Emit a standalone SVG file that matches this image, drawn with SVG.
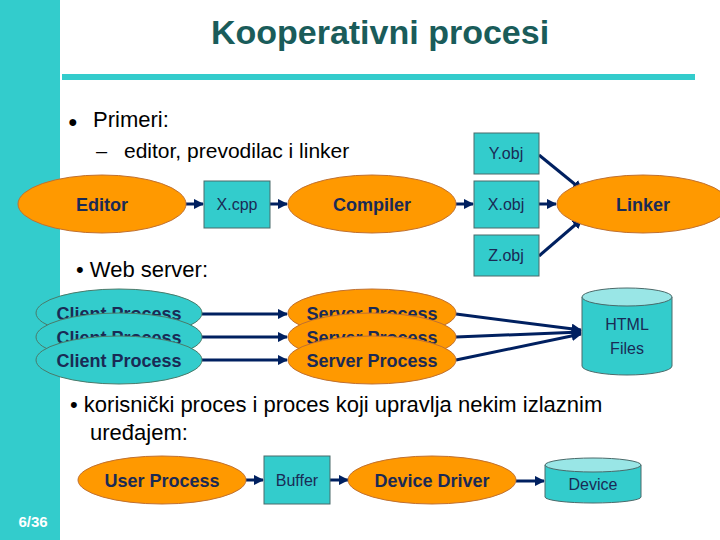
<svg xmlns="http://www.w3.org/2000/svg" width="720" height="540" viewBox="0 0 720 540">
<style>
.t{font-family:"Liberation Sans",Arial,sans-serif;fill:#000}
.n{font-family:"Liberation Sans",Arial,sans-serif;font-weight:bold;font-size:18px;fill:#1a2a55;text-anchor:middle}
.b{font-family:"Liberation Sans",Arial,sans-serif;font-size:16px;fill:#1a2a55;text-anchor:middle}
.oe{fill:#ff9900;stroke:#c07030;stroke-width:1}
.te{fill:#33cccc;stroke:#4a7a6a;stroke-width:1}
.bx{fill:#33cccc;stroke:#4a6a6a;stroke-width:1}
.c path,.c line{stroke:#002060;stroke-width:3;fill:none;marker-end:url(#a)}
</style>
<defs><marker id="a" viewBox="0 0 10 10" refX="9" refY="5" markerWidth="3.5" markerHeight="3.5" orient="auto"><path d="M0,0L10,5L0,10z" fill="#002060"/></marker></defs>
<rect x="0" y="0" width="60" height="540" fill="#33cccc"/>
<rect x="62" y="74" width="633" height="6" fill="#33cccc"/>
<text x="380" y="44" class="t" font-size="34" font-weight="bold" text-anchor="middle" style="fill:#1a5c5a">Kooperativni procesi</text>
<text x="68" y="127" class="t" font-size="16">●</text>
<text x="93" y="127" class="t" font-size="22">Primeri:</text>
<text x="96" y="158" class="t" font-size="20">–</text>
<text x="124" y="158" class="t" font-size="21">editor, prevodilac i linker</text>
<text x="76" y="277" class="t" font-size="22">• Web server:</text>
<text x="70" y="412" class="t" font-size="22">• korisnički proces i proces koji upravlja nekim izlaznim</text>
<text x="90" y="440" class="t" font-size="22">uređajem:</text>
<text x="33" y="527" font-family="Liberation Sans,Arial,sans-serif" font-weight="bold" font-size="15" fill="#fff" text-anchor="middle">6/36</text>
<g class="c">
<line x1="186" y1="204" x2="203" y2="204"/>
<line x1="270" y1="204" x2="287" y2="204"/>
<line x1="456" y1="204" x2="473" y2="204"/>
<line x1="539" y1="204" x2="556" y2="204"/>
<line x1="539" y1="155" x2="582" y2="190"/>
<line x1="539" y1="256" x2="582" y2="219"/>
<line x1="202" y1="314" x2="287" y2="314"/>
<line x1="202" y1="337" x2="287" y2="337"/>
<line x1="202" y1="360" x2="287" y2="360"/>
<line x1="456" y1="314" x2="581" y2="330"/>
<line x1="456" y1="337" x2="581" y2="332"/>
<line x1="456" y1="360" x2="581" y2="334"/>
<line x1="246" y1="480" x2="263" y2="480"/>
<line x1="330" y1="480" x2="348" y2="480"/>
<line x1="516" y1="481" x2="544" y2="481"/>
</g>
<g id="editor"><ellipse class="oe" cx="102" cy="204" rx="84" ry="29"/><text class="n" x="102" y="211">Editor</text></g>
<g id="xcpp"><rect class="bx" x="204" y="181" width="66" height="47"/><text class="b" x="237" y="210">X.cpp</text></g>
<g id="compiler"><ellipse class="oe" cx="372" cy="204" rx="84" ry="29"/><text class="n" x="372" y="211">Compiler</text></g>
<g id="yobj"><rect class="bx" x="474" y="133" width="65" height="41"/><text class="b" x="506" y="159">Y.obj</text></g>
<g id="xobj"><rect class="bx" x="474" y="181" width="65" height="47"/><text class="b" x="506" y="210">X.obj</text></g>
<g id="zobj"><rect class="bx" x="474" y="235" width="65" height="41"/><text class="b" x="506" y="261">Z.obj</text></g>
<g id="linker"><ellipse class="oe" cx="643" cy="204" rx="86" ry="29"/><text class="n" x="643" y="211">Linker</text></g>
<g id="client1"><ellipse class="te" cx="119" cy="313" rx="83" ry="24"/><text class="n" x="119" y="320">Client Process</text></g>
<g id="client2"><ellipse class="te" cx="119" cy="337" rx="83" ry="24"/><text class="n" x="119" y="344">Client Process</text></g>
<g id="client3"><ellipse class="te" cx="119" cy="360" rx="83" ry="24"/><text class="n" x="119" y="367">Client Process</text></g>
<g id="server1"><ellipse class="oe" cx="372" cy="313" rx="84" ry="24"/><text class="n" x="372" y="320">Server Process</text></g>
<g id="server2"><ellipse class="oe" cx="372" cy="337" rx="84" ry="24"/><text class="n" x="372" y="344">Server Process</text></g>
<g id="server3"><ellipse class="oe" cx="372" cy="360" rx="84" ry="24"/><text class="n" x="372" y="367">Server Process</text></g>
<g id="html"><path class="bx" d="M582,297 V366 A45,9 0 0 0 672,366 V297"/><ellipse cx="627" cy="297" rx="45" ry="9" fill="#99e6e6" stroke="#4a6a6a"/><text class="b" x="627" y="330" font-size="19">HTML</text><text class="b" x="627" y="354" font-size="19">Files</text></g>
<g id="user"><ellipse class="oe" cx="162" cy="480" rx="84" ry="24"/><text class="n" x="162" y="487">User Process</text></g>
<g id="buffer"><rect class="bx" x="264" y="456" width="66" height="48"/><text class="b" x="297" y="486">Buffer</text></g>
<g id="driver"><ellipse class="oe" cx="432" cy="480" rx="84" ry="24"/><text class="n" x="432" y="487">Device Driver</text></g>
<g id="device"><path class="bx" d="M545,465 V497 A48,6 0 0 0 641,497 V465"/><ellipse cx="593" cy="465" rx="48" ry="7" fill="#99e6e6" stroke="#4a6a6a"/><text class="b" x="593" y="490" font-size="18">Device</text></g>
</svg>
